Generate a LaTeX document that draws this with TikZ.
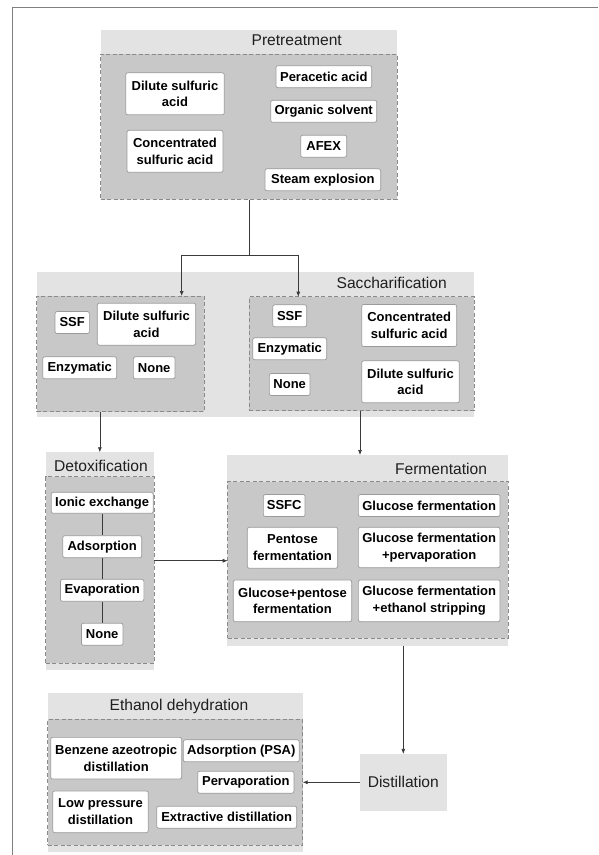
\documentclass[tikz,border=0pt]{standalone}
\usepackage{fontspec}
\setmainfont{Liberation Sans}
\usepackage{tikz}
\usetikzlibrary{arrows.meta}

\definecolor{panelback}{HTML}{E3E3E3}
\definecolor{panelin}{HTML}{C8C8C8}
\definecolor{dashline}{HTML}{8A8A8A}
\definecolor{boxline}{HTML}{9A9A9A}
\definecolor{linkline}{HTML}{3A3A3A}
\definecolor{framegray}{HTML}{7F7F7F}

\begin{document}
\begin{tikzpicture}[x=1pt,y=-1pt,
  outerpanel/.style={fill=panelback,inner sep=0pt,outer sep=0pt,anchor=north west},
  innerpanel/.style={fill=panelin,draw=dashline,dashed,dash pattern=on 4pt off 2.5pt,line width=0.8pt,inner sep=0pt,outer sep=0pt,anchor=north west},
  paneltitle/.style={font=\fontsize{15.6}{18}\selectfont,text=black!88},
  item/.style={fill=white,draw=boxline,line width=0.7pt,rounded corners=2pt,font=\fontsize{13}{16.5}\selectfont\bfseries,align=center,inner xsep=3.5pt,inner ysep=0pt,minimum height=22pt,text=black},
  tall/.style={minimum height=42pt},
  link/.style={draw=linkline,line width=0.7pt},
  arrowlink/.style={link,-{Latex[length=5pt,width=4pt]}}]
\useasboundingbox (0,0) rectangle (598,855);
\draw[framegray,line width=1pt] (598,7) -- (12,7) -- (12,855);

\node[outerpanel,minimum width=296.3pt,minimum height=170pt] (pre) at (100.7,30) {};
\node[innerpanel,minimum width=296.3pt,minimum height=145pt] (preIn) at (100.7,54) {};
\node[paneltitle] (preT) at (296.7,40) {Pretreatment};
\node[item,tall,minimum width=98.6pt] (pDil) at (175,93.8) {Dilute sulfuric\\acid};
\node[item,tall,minimum width=96pt] (pCon) at (175,151.3) {Concentrated\\sulfuric acid};
\node[item,minimum width=95.7pt] (pPer) at (323.8,76.7) {Peracetic acid};
\node[item,minimum width=106pt] (pOrg) at (323.7,111.3) {Organic solvent};
\node[item,minimum width=46pt] (pAfx) at (323.7,146.2) {AFEX};
\node[item,minimum width=115.7pt] (pSte) at (322.8,179.8) {Steam explosion};

\node[outerpanel,minimum width=437.3pt,minimum height=145pt] (sac) at (36.7,271.7) {};
\node[innerpanel,minimum width=167.3pt,minimum height=115.7pt] (sacL) at (36.7,296) {};
\node[innerpanel,minimum width=224.7pt,minimum height=114pt] (sacR) at (249.3,296.7) {};
\node[paneltitle] (sacT) at (391.7,283.3) {Saccharification};
\node[item,minimum width=34.3pt] (sSsfL) at (72.2,322.5) {SSF};
\node[item,tall,minimum width=98.4pt] (sDilL) at (146.5,324.2) {Dilute sulfuric\\acid};
\node[item,minimum width=74pt] (sEnzL) at (79.7,367.8) {Enzymatic};
\node[item,minimum width=41.7pt] (sNonL) at (154.2,367.8) {None};
\node[item,minimum width=34pt] (sSsfR) at (289.7,315.8) {SSF};
\node[item,minimum width=74pt] (sEnzR) at (289.7,348.8) {Enzymatic};
\node[item,minimum width=40.7pt] (sNonR) at (289.7,384.5) {None};
\node[item,tall,minimum width=95pt] (sConR) at (409.2,325.5) {Concentrated\\sulfuric acid};
\node[item,tall,minimum width=97.6pt] (sDilR) at (410.5,381.8) {Dilute sulfuric\\acid};

\node[outerpanel,minimum width=108.3pt,minimum height=217.7pt] (det) at (45.7,452.3) {};
\node[innerpanel,minimum width=108.3pt,minimum height=186.6pt] (detIn) at (45.7,476.7) {};
\node[paneltitle] (detT) at (101,466) {Detoxification};
\node[item,minimum width=102pt,minimum height=21pt] (dIon) at (102.2,502.8) {Ionic exchange};
\node[item,minimum width=79pt] (dAds) at (102.2,546.7) {Adsorption};
\node[item,minimum width=83.3pt] (dEva) at (102.2,590.3) {Evaporation};
\node[item,minimum width=41.6pt] (dNon) at (102.2,634.2) {None};

\node[outerpanel,minimum width=281.6pt,minimum height=190.7pt] (fer) at (226.7,455) {};
\node[innerpanel,minimum width=280.6pt,minimum height=156.6pt] (ferIn) at (227.7,481.7) {};
\node[paneltitle] (ferT) at (441,469.3) {Fermentation};
\node[item,minimum width=41.7pt] (fSsfc) at (284.2,505.5) {SSFC};
\node[item,minimum width=141.7pt] (fGlu) at (429.2,505.5) {Glucose fermentation};
\node[item,tall,minimum width=90.4pt,minimum height=41pt] (fPen) at (292.5,547.8) {Pentose\\fermentation};
\node[item,tall,minimum width=141.7pt,minimum height=40.4pt] (fGlp) at (429.2,547.5) {Glucose fermentation\\+pervaporation};
\node[item,tall,minimum width=118.4pt,minimum height=41.7pt] (fGpf) at (292.5,600.8) {Glucose+pentose\\fermentation};
\node[item,tall,minimum width=141.7pt,minimum height=41.7pt] (fGes) at (429.2,600.8) {Glucose fermentation\\+ethanol stripping};

\node[fill=panelback,minimum width=86.7pt,minimum height=56.7pt,inner sep=0pt,outer sep=0pt,font=\fontsize{15.6}{18}\selectfont,text=black!88] (dist) at (403.3,782.3) {Distillation};

\node[outerpanel,minimum width=255pt,minimum height=158.4pt] (eth) at (47.7,693.3) {};
\node[innerpanel,minimum width=255pt,minimum height=125.7pt] (ethIn) at (47.7,719.3) {};
\node[paneltitle] (ethT) at (179,706) {Ethanol dehydration};
\node[item,tall,minimum width=131pt,minimum height=41.7pt] (eBen) at (116.2,758.2) {Benzene azeotropic\\distillation};
\node[item,minimum width=116pt] (eAds) at (241.3,750.8) {Adsorption (PSA)};
\node[item,minimum width=96.3pt] (ePer) at (245.8,782.2) {Pervaporation};
\node[item,tall,minimum width=95.6pt,minimum height=41.7pt] (eLow) at (100.5,811.8) {Low pressure\\distillation};
\node[item,minimum width=140pt] (eExt) at (226.7,817.2) {Extractive distillation};

\coordinate (split) at (249.3,255);
\draw[link] (249.3,200) -- (split);
\draw[arrowlink] (split) -| (181.7,296);
\draw[arrowlink] (split) -| (298.3,296.7);
\draw[arrowlink] (det.north |- sacL.south) -- (det.north);
\draw[arrowlink] (360,410.7) -- (360,455);
\draw[link] (dIon) -- (dAds) -- (dEva) -- (dNon);
\draw[arrowlink] (det.east |- 0,560.7) -- (ferIn.west |- 0,560.7);
\draw[arrowlink] (dist.north |- fer.south) -- (dist.north);
\draw[arrowlink] (dist.west) -- (dist.west -| eth.east);
\end{tikzpicture}
\end{document}
